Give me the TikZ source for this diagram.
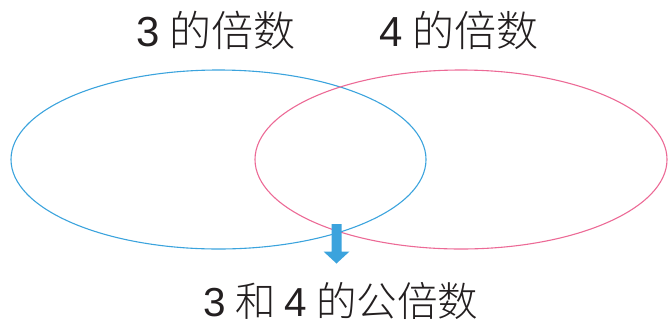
\documentclass[tikz,border=0pt]{standalone}
\usepackage{fontspec}
\newfontfamily\cjk{Noto Sans CJK SC Light}
\newfontfamily\dig{Liberation Sans}
\definecolor{setblue}{HTML}{3BA3DD}
\definecolor{setpink}{HTML}{EC6A96}
\definecolor{txtgray}{HTML}{231F20}
\begin{document}
\begin{tikzpicture}[x=1pt,y=-1pt,
  setline/.style={line width=1.1pt},
  lab/.style={font=\cjk\fontsize{42}{45}\selectfont, text=txtgray, inner sep=0pt},
  labb/.style={font=\cjk\fontsize{40.5}{44}\selectfont, text=txtgray, inner sep=0pt}]
\useasboundingbox (0,0) rectangle (668,325);
\draw[setline, setblue] (218.5,159.5) ellipse [x radius=207.5, y radius=89.5];
\draw[setline, setpink] (461,159.5) ellipse [x radius=206, y radius=89.5];
\node[lab] (a) at (216,30) {{\dig 3} 的倍数};
\node[lab] (b) at (459,30) {{\dig 4} 的倍数};
\node[labb] (c) at (341,301) {{\dig 3} 和 {\dig 4} 的公倍数};
\fill[setblue] (331.5,224) -- (341.5,224) -- (341.5,251.5) -- (349.5,251.5) -- (336.5,263.5) -- (323.5,251.5) -- (331.5,251.5) -- cycle;
\end{tikzpicture}
\end{document}
